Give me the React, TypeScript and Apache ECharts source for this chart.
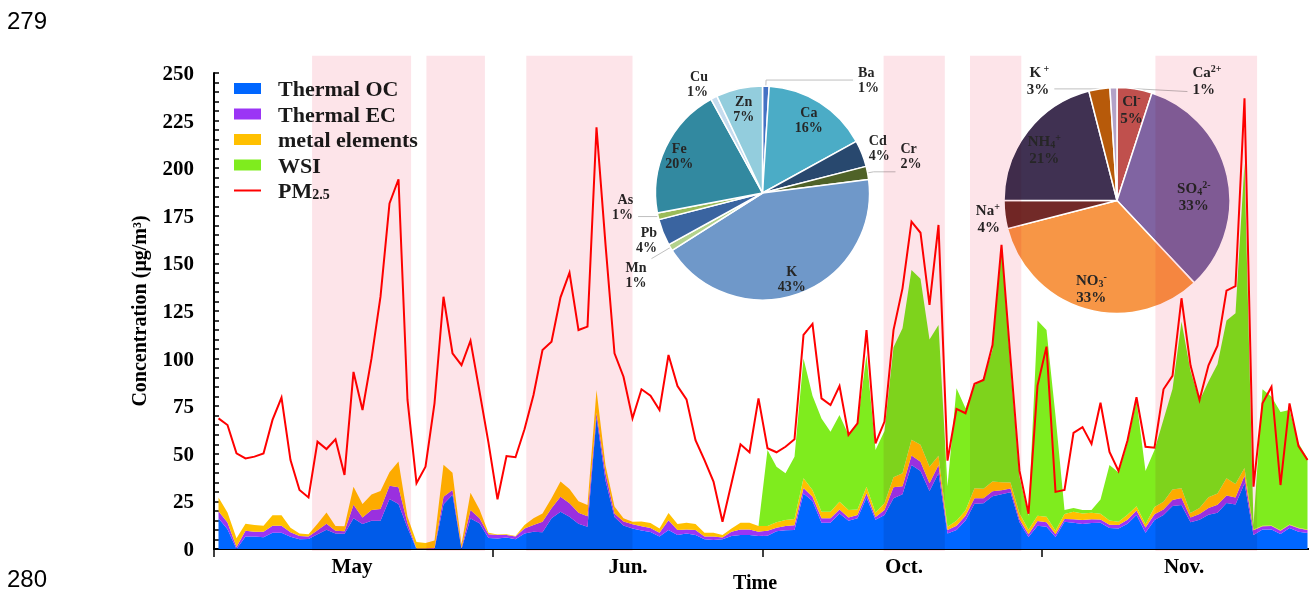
import React, { useEffect, useRef } from 'react';
import * as echarts from 'echarts';

// ---------------- data ----------------
const MONTHS = ['May', 'Jun.', 'Oct.', 'Nov.'];
const MONTH_NUM = [5, 6, 10, 11];
const MONTH_DAYS = [31, 30, 31, 30];

const DAYS: string[] = [];
MONTH_NUM.forEach((m, k) => {
  for (let d = 1; d <= MONTH_DAYS[k]; d++) DAYS.push(`${m}-${d}`);
});
const MONTH_START: number[] = [];
MONTH_DAYS.reduce((acc, d) => { MONTH_START.push(acc); return acc + d; }, 0);
const MONTH_LABEL_AT: Record<number, number> = {};
MONTH_START.forEach((s, k) => { MONTH_LABEL_AT[s + 15] = k; });

const PM25 = [
  68.6, 65.1, 50.2, 47.6, 48.5, 50.2, 67.8, 79.5, 46.7, 31,
  27.1, 56.4, 52.5, 57.6, 38.9, 93, 73, 100.1, 132.5, 181.5,
  194.2, 78.3, 34.5, 43.2, 76.5, 132.5, 102.8, 96.6, 109.4, 82.8,
  55.7, 26.1, 48.8, 48.2, 62.9, 80.9, 104.5, 108.9, 132.2, 145.1,
  115, 116.8, 221.5, 160, 102.8, 90.5, 68.6, 83.9, 80.5, 73,
  101.9, 85.6, 78.6, 57.2, 46.7, 35.4, 14.3, 34.5, 55, 50.8,
  79.1, 52.9, 50.8, 53.7, 57.6, 112.4, 118.2, 79.1, 75.6, 85.6,
  59.9, 66, 115, 55.5, 66.9, 115, 136.9, 171.9, 166.1, 128.2,
  170.2, 46.4, 73.6, 71.3, 86.8, 88.8, 107.1, 159.7, 100, 41,
  18.5, 85.8, 106.3, 30, 31, 61, 64, 55.2, 76.8, 51,
  41, 57, 79.7, 53.7, 53.2, 83.9, 90.9, 131.7, 96.5, 78.3,
  96.5, 106.8, 135.7, 138.1, 236.7, 32.7, 76.5, 85.2, 33.6, 76.5,
  54.1, 46.7,
];

const THERMAL_OC = [
  16.1, 10.4, 0, 6.6, 6.5, 6.2, 8.6, 8.6, 6.4, 5.1,
  5.2, 7.8, 10.1, 8.2, 8, 16.1, 13.1, 14.9, 14.9, 26.3,
  23.6, 11.2, 0, 0, 0, 23.5, 28.5, 0, 16, 13.5,
  5.8, 5.5, 6.1, 5.1, 8.2, 9.1, 8.8, 16.1, 19.6, 17,
  13.3, 11.7, 69, 36, 16.8, 12.3, 10.8, 9.7, 8.9, 6.5,
  10, 7.4, 8.2, 7.4, 5.1, 4.7, 5.1, 6.8, 7.4, 7.4,
  6.8, 7, 9.3, 9.8, 10, 29.2, 25.2, 13.8, 13.8, 18.7,
  14.9, 16.1, 27.1, 15.4, 17.9, 26.6, 28.8, 44.1, 41, 30.5,
  39.8, 8.2, 10, 15, 23.8, 24, 27.7, 28.7, 29.8, 14,
  6.3, 12.2, 11.7, 6.3, 14.3, 13.8, 13.1, 13.6, 13.8, 11,
  10.8, 13.2, 17.8, 8.6, 15.2, 17.8, 22.6, 23.1, 14, 15.4,
  18, 19, 24.1, 23.4, 34.5, 7.4, 10.2, 10.3, 7.9, 11,
  9.1, 8.4,
];

const THERMAL_EC = [
  3.7, 3.5, 1, 3, 2.6, 2.8, 3.6, 3.6, 2.4, 1.7,
  1.4, 2, 3.2, 1.4, 1.3, 7.1, 3.4, 5.6, 6.1, 6.9,
  8.8, 2.3, 0.3, 0.3, 0.5, 4, 2.5, 0.5, 4.5, 2.6,
  2, 1.8, 1.3, 1.4, 2.6, 3.5, 5.5, 5.3, 7.9, 7,
  5.8, 5.5, 2.5, 3.8, 1.9, 2.2, 2.2, 2.2, 2.1, 2.1,
  5.1, 2.6, 2.1, 2.6, 1.4, 1.8, 1, 2.3, 2.9, 2.9,
  2.3, 2.6, 1.9, 2.3, 2.5, 2.8, 2.2, 2.3, 2.3, 2.1,
  1.7, 1.8, 2.2, 1.4, 2.6, 5.8, 4.1, 5, 4.8, 4,
  4.3, 1.8, 2.2, 2.4, 2.8, 2.6, 2.6, 2.1, 2, 1.6,
  1.5, 2.5, 2.3, 1.5, 1.5, 1.8, 2.1, 2, 1.7, 1.7,
  1.8, 2.2, 2.4, 2.7, 3.1, 3, 3.1, 3.7, 2.5, 3,
  3.5, 4.2, 4, 3.7, 4, 2.4, 1.8, 1.8, 1.7, 1.6,
  1.8, 1.6,
];

const METAL_ELEMENTS = [
  7.2, 5.3, 4.6, 3.7, 3.5, 3.2, 5.5, 5.5, 2.4, 1.4,
  1.2, 3.4, 5.9, 2.5, 2.7, 9.5, 7.1, 8.1, 9.5, 7.1,
  13.5, 3.5, 3.4, 2.9, 4, 16.8, 9, 2, 9.1, 4.7,
  0.8, 0.3, 0.3, 0.3, 1.8, 3.5, 4.4, 5.2, 7.9, 7.5,
  6, 5.9, 12, 4.2, 3.6, 1.7, 1.3, 2.6, 2.6, 2.2,
  3.8, 3.1, 3.5, 3.1, 2.1, 2.1, 1.3, 1.7, 3.5, 3.5,
  3, 2.5, 2.8, 3.1, 3.3, 5.1, 3.6, 3.5, 3.5, 4,
  3.9, 2.9, 3.4, 2.4, 3.5, 5.3, 6.9, 8.3, 9, 8.7,
  4.9, 1.7, 2.6, 2.8, 5.3, 5, 5.2, 4.2, 3.1, 3.1,
  2.3, 2.7, 3, 1.8, 2.6, 4, 3.5, 3.4, 3, 2.3,
  1.7, 2.6, 2.2, 1.7, 3.7, 4, 5.5, 5.1, 2.4, 3.1,
  5.7, 5.9, 9, 7.1, 4, 0.4, 0.2, 0.3, 0.3, 0.3,
  0.3, 0.3,
];

const WSI = [
  0, 0, 0, 0, 0, 0, 0, 0, 0, 0,
  0, 0, 0, 0, 0, 0, 0, 0, 0, 0,
  0, 0, 0, 0, 0, 0, 0, 0, 0, 0,
  0, 0, 0, 0, 0, 0, 0, 0, 0, 0,
  0, 0, 0, 0, 0, 0, 0, 0, 0, 0,
  0, 0, 0, 0, 0, 0, 0, 0, 0, 0,
  0, 39.9, 29.2, 24.6, 32.7, 62.9, 49.5, 49, 42, 45.6,
  39.4, 44.9, 69.2, 32.8, 38, 68.3, 76.2, 89.1, 87.2, 66.8,
  68.6, 21.3, 69.6, 53.7, 54.1, 57.9, 69, 123.8, 60.1, 19.3,
  7.4, 102.6, 98, 60.4, 2.1, 1.9, 1.8, 1.5, 7.5, 29.1,
  25.9, 38, 55.4, 28, 30, 43.2, 52.8, 87.6, 74.6, 56.3,
  60.8, 67.9, 82.9, 89.6, 160.1, 2.4, 71.7, 67.6, 62.1, 60.1,
  44.3, 37.3,
];

// pollution episodes, in day units along the time axis [start, end]
const EPISODES: [number, number][] = [
  [10.9, 21.9], [23.6, 30.1], [34.7, 46.5], [74.4, 81.2], [84, 89.7], [104.6, 115.9],
];
const EPISODE_TOP = 259;

const METAL_NAMES = ['Ba', 'Ca', 'Cd', 'Cr', 'K', 'Mn', 'Pb', 'As', 'Fe', 'Cu', 'Zn'];
const METAL_SHARE = [1, 16, 4, 2, 43, 1, 4, 1, 20, 1, 7];
const ION_NAMES = ['Cl-', 'SO4 2-', 'NO3-', 'Na+', 'NH4+', 'K+', 'Ca2+'];
const ION_SHARE = [5, 33, 33, 4, 21, 3, 1];

// ---------------- styles ----------------
const SERIF = '"Liberation Serif", "Times New Roman", serif';
const TXT = '#1a1a1a';
const PINK = '#fde4e8';
const PINK_OVERLAY = '#fde4e9';
const C_OC = '#0066ff';
const C_EC = '#9b35f5';
const C_METAL = '#ffc000';
const C_WSI = '#7fec1e';
const C_PM = '#ff0000';

const METAL_COLORS = ['#4472c4', '#4bacc6', '#28486e', '#4f6228', '#6f98c9', '#b3d28c', '#3a64a0', '#9bbb59', '#3289a0', '#c6dcef', '#93cddd'];
const ION_COLORS = ['#c0504d', '#8064a2', '#f79646', '#722a28', '#403152', '#b75a0a', '#b3a2c7'];

const PIE1 = { center: [762.5, 193], r: 107, r0Label: 60 };
const PIE2 = { center: [1117, 200.5], r: 113, r0Label: 65 };

type Outer = { len: number; len2: number; line: boolean; pad: number[]; flip?: boolean; dy?: number };
const METAL_OUTER: Record<string, Outer> = {
  Ba: { len: 6, len2: 87, line: true, pad: [0, 0, 0, 0] },
  Cd: { len: 2, len2: 0, line: false, pad: [0, 0, 10, 0] },
  Cr: { len: 6, len2: 22, line: true, pad: [0, 0, 32, 0] },
  Mn: { len: 22, len2: 0, line: true, pad: [32, 0, 0, 0] },
  Pb: { len: 1, len2: 0, line: false, pad: [15, 0, 0, 0] },
  As: { len: 1, len2: 19, line: true, pad: [0, 0, 20, 0] },
  Cu: { len: 2, len2: 0, line: false, pad: [0, 0, 24, 0] },
};
const METAL_INNER_PAD: Record<string, number[]> = {
  K: [10, 0, 0, 0], Fe: [0, 10, 0, 0], Ca: [0, 0, 0, 0], Zn: [0, 0, 0, 0],
};
const ION_OUTER: Record<string, Outer> = {
  'Na+': { len: 0, len2: 0, line: false, pad: [8, 0, 0, 0] },
  'K+': { len: 0, len2: 45, line: true, pad: [0, 0, 17, 0] },
  'Ca2+': { len: 0, len2: 74, line: true, pad: [0, 0, 0, 0], flip: true, dy: -7.5 },
};
const ION_INNER_PAD: Record<string, number[]> = {
  'SO4 2-': [32, 26, 0, 0], 'Cl-': [0, 0, 0, 0], 'NO3-': [0, 0, 0, 0], 'NH4+': [10, 0, 0, 0],
};
const ION_RICH_NAME: Record<string, string> = {
  'Cl-': '{b|Cl}{sup|-}',
  'SO4 2-': '{b|SO}{sub|4}{sup|2-}',
  'NO3-': '{b|NO}{sub|3}{sup|-}',
  'Na+': '{b|Na}{sup|+}',
  'NH4+': '{b|NH}{sub|4}{sup|+}',
  'K+': '{b|K}{sup| +}',
  'Ca2+': '{b|Ca}{sup|2+}',
};
const ION_RICH = {
  b: { fontFamily: SERIF, fontWeight: 'bold', fontSize: 15, color: '#262626', lineHeight: 17 },
  sup: { fontFamily: SERIF, fontWeight: 'bold', fontSize: 10, color: '#262626', lineHeight: 10, verticalAlign: 'top' },
  sub: { fontFamily: SERIF, fontWeight: 'bold', fontSize: 10, color: '#262626', lineHeight: 10, verticalAlign: 'bottom' },
};
const METAL_RICH = {
  n: { fontFamily: SERIF, fontWeight: 'bold', fontSize: 14, color: '#262626', lineHeight: 15 },
};
const PIE_LABEL_BASE = { fontFamily: SERIF, fontWeight: 'bold', color: '#262626' };

function areaSeries(name: string, data: number[], color: string) {
  return {
    name, type: 'line', stack: 'composition', data, color,
    symbol: 'none', showSymbol: false, silent: true,
    lineStyle: { width: 0, color },
    itemStyle: { color },
    areaStyle: { color, opacity: 1 },
    emphasis: { disabled: true },
    z: 2,
  };
}

export default function App() {
  const ref = useRef<HTMLDivElement>(null);
  useEffect(() => {
    if (!ref.current) return;
    const chart = echarts.init(ref.current, null, { renderer: 'svg' });

    const metalData = METAL_NAMES.map((name, i) => {
      const o = METAL_OUTER[name];
      return {
        name, value: METAL_SHARE[i],
        itemStyle: { color: METAL_COLORS[i] },
        label: o ? { show: true, padding: o.pad } : { show: false },
        labelLine: o ? { show: o.line, length: o.len, length2: o.len2 } : { show: false },
      };
    });
    const metalRing = METAL_NAMES.map((name, i) => ({
      name, value: METAL_SHARE[i],
      label: METAL_OUTER[name] ? { show: false } : { show: true, padding: METAL_INNER_PAD[name] || 0 },
    }));
    const ionData = ION_NAMES.map((name, i) => {
      const o = ION_OUTER[name];
      return {
        name, value: ION_SHARE[i],
        itemStyle: { color: ION_COLORS[i] },
        label: o ? { show: true, padding: o.pad } : { show: false },
        labelLine: o ? { show: o.line, length: o.len, length2: o.flip ? 0 : o.len2 } : { show: false },
      };
    });
    const ionRing = ION_NAMES.map((name, i) => ({
      name, value: ION_SHARE[i],
      label: ION_OUTER[name] ? { show: false } : { show: true, padding: ION_INNER_PAD[name] || 0 },
    }));
    const ionFormatter = (p: any) => `${ION_RICH_NAME[p.name]}\n{b|${p.percent}%}`;
    const metalFormatter = (p: any) => `{n|${p.name}}\n{n|${p.percent}%}`;

    const option: any = {
      animation: false,
      backgroundColor: '#ffffff',
      grid: { left: 214, right: -3, top: 73, bottom: 43, containLabel: false, outerBoundsMode: 'none' },
      legend: {
        orient: 'vertical', left: 233, top: 77.5, padding: 0, z: 10,
        itemWidth: 27, itemHeight: 11, itemGap: 3.5, selectedMode: false,
        textStyle: {
          fontFamily: SERIF, fontWeight: 'bold', fontSize: 22, color: TXT, lineHeight: 22,
          padding: [0, 0, 0, 12],
          rich: { sub: { fontFamily: SERIF, fontWeight: 'bold', fontSize: 14, color: TXT, lineHeight: 14, verticalAlign: 'bottom' } },
        },
        formatter: (n: string) => (n === 'PM2.5' ? 'PM{sub|2.5}' : n),
        data: [
          { name: 'Thermal OC', icon: 'rect', itemStyle: { color: C_OC, borderWidth: 0 } },
          { name: 'Thermal EC', icon: 'rect', itemStyle: { color: C_EC, borderWidth: 0 } },
          { name: 'metal elements', icon: 'rect', itemStyle: { color: C_METAL, borderWidth: 0 } },
          { name: 'WSI', icon: 'rect', itemStyle: { color: C_WSI, borderWidth: 0 } },
          { name: 'PM2.5', icon: 'line', itemStyle: { color: C_PM, borderColor: C_PM, borderWidth: 2 } },
        ],
      },
      xAxis: [
        {
          type: 'category', data: DAYS, boundaryGap: true,
          axisLine: { show: true, lineStyle: { color: '#000', width: 2 } },
          axisTick: {
            show: true, length: 8, lineStyle: { color: '#000', width: 1.5 },
            interval: (i: number) => MONTH_START.includes(i),
          },
          axisLabel: {
            interval: (i: number) => MONTH_LABEL_AT[i] !== undefined,
            formatter: (_v: string, i: number) => {
              const k = MONTH_LABEL_AT[i];
              return k === undefined ? '' : `{m${k}|${MONTHS[k]}}`;
            },
            fontFamily: SERIF, fontWeight: 'bold', fontSize: 21, color: '#000', margin: 6,
            rich: {
              m0: { padding: [0, 3, 0, 0] }, m1: { padding: [0, 9, 0, 0] },
              m2: { padding: [0, 0, 0, 3] }, m3: { padding: [0, 0, 0, 5] },
            },
          },
          splitLine: { show: false },
          name: 'Time', nameLocation: 'middle', nameGap: 23, nameMoveOverlap: false,
          nameTextStyle: { fontFamily: SERIF, fontWeight: 'bold', fontSize: 20, color: '#000', lineHeight: 20, padding: [0, 16, 0, 0] },
        },
        { type: 'value', min: 0, max: DAYS.length, show: false },
      ],
      yAxis: {
        type: 'value', min: 0, max: 250, interval: 5,
        axisLine: { show: true, lineStyle: { color: '#000', width: 2 } },
        axisTick: { show: true, inside: true, length: 5, lineStyle: { color: '#000', width: 1.5 } },
        axisLabel: {
          formatter: (v: number) => (v % 25 === 0 ? String(v) : ''),
          fontFamily: SERIF, fontWeight: 'bold', fontSize: 21, color: '#000', margin: 20,
        },
        splitLine: { show: false },
        name: 'Concentration (μg/m³)', nameLocation: 'middle', nameGap: 65, nameRotate: 90, nameMoveOverlap: false,
        nameTextStyle: { fontFamily: SERIF, fontWeight: 'bold', fontSize: 20, color: '#000', lineHeight: 20 },
      },
      series: [
        areaSeries('Thermal OC', THERMAL_OC, C_OC),
        areaSeries('Thermal EC', THERMAL_EC, C_EC),
        areaSeries('metal elements', METAL_ELEMENTS, C_METAL),
        areaSeries('WSI', WSI, C_WSI),
        {
          name: 'PM2.5', type: 'line', data: PM25, color: C_PM, symbol: 'none', showSymbol: false, silent: true,
          lineStyle: { color: C_PM, width: 2, join: 'miter', miterLimit: 4 },
          itemStyle: { color: C_PM }, emphasis: { disabled: true }, z: 3,
        },
        {
          type: 'pie', name: 'metals', center: PIE1.center, radius: [0, PIE1.r], startAngle: 90, clockwise: true,
          avoidLabelOverlap: false, silent: true, z: 5,
          itemStyle: { borderColor: '#ffffff', borderWidth: 1.5 },
          label: { ...PIE_LABEL_BASE, position: 'outside', fontSize: 14, lineHeight: 15, formatter: metalFormatter, rich: METAL_RICH },
          labelLine: { lineStyle: { color: '#bfbfbf', width: 1 } },
          labelLayout: { hideOverlap: false, moveOverlap: false },
          data: metalData,
        },
        {
          type: 'pie', name: 'metalsLabels', center: PIE1.center, radius: [PIE1.r0Label, PIE1.r], startAngle: 90, clockwise: true,
          avoidLabelOverlap: false, silent: true, z: 6,
          itemStyle: { color: 'rgba(0,0,0,0)', borderWidth: 0 },
          label: { ...PIE_LABEL_BASE, position: 'inside', fontSize: 14, lineHeight: 15, formatter: metalFormatter, rich: METAL_RICH },
          labelLine: { show: false },
          labelLayout: { hideOverlap: false },
          data: metalRing,
        },
        {
          type: 'pie', name: 'ions', center: PIE2.center, radius: [0, PIE2.r], startAngle: 90, clockwise: true,
          avoidLabelOverlap: false, silent: true, z: 5,
          itemStyle: { borderColor: '#ffffff', borderWidth: 1.5 },
          label: { ...PIE_LABEL_BASE, position: 'outside', fontSize: 15, lineHeight: 17, formatter: ionFormatter, rich: ION_RICH },
          labelLine: { lineStyle: { color: '#bfbfbf', width: 1 } },
          labelLayout: (p: any) => {
            const spec = ION_OUTER[ION_NAMES[p.dataIndex]];
            if (!spec || !spec.flip || !p.labelLinePoints) return { hideOverlap: false };
            const a = p.labelLinePoints[0];
            const x3 = a[0] + spec.len2;
            return {
              hideOverlap: false,
              x: x3 + 5, y: a[1] + (spec.dy || 0), align: 'left', verticalAlign: 'middle',
              labelLinePoints: [a, [x3, a[1] + 4]],
            };
          },
          data: ionData,
        },
        {
          type: 'pie', name: 'ionsLabels', center: PIE2.center, radius: [PIE2.r0Label, PIE2.r], startAngle: 90, clockwise: true,
          avoidLabelOverlap: false, silent: true, z: 6,
          itemStyle: { color: 'rgba(0,0,0,0)', borderWidth: 0 },
          label: { ...PIE_LABEL_BASE, position: 'inside', fontSize: 15, lineHeight: 17, formatter: ionFormatter, rich: ION_RICH },
          labelLine: { show: false },
          labelLayout: { hideOverlap: false },
          data: ionRing,
        },
      ],
    };
    chart.setOption(option);

    const px = (v: number) => chart.convertToPixel({ xAxisIndex: 1 }, v) as unknown as number;
    const py = (v: number) => chart.convertToPixel({ yAxisIndex: 0 }, v) as unknown as number;
    const yTop = py(EPISODE_TOP);
    const yBot = py(0);
    const bandShape = ([a, b]: [number, number]) => ({ x: px(a), y: yTop, width: px(b) - px(a), height: yBot - yTop + 2 });
    // pink episode bands behind the data
    const bandEls = EPISODES.map((ep) => ({
      type: 'rect', silent: true, z: 0, shape: bandShape(ep), style: { fill: PINK },
    }));
    // the same bands above the data, made visible with multiply blending below
    const overlayEls = EPISODES.map((ep) => ({
      type: 'rect', silent: true, z: 100, shape: bandShape(ep), style: { fill: PINK_OVERLAY, opacity: 0.002 },
    }));
    chart.setOption({
      graphic: {
        elements: [
          ...bandEls,
          ...overlayEls,
          { type: 'text', left: 7, top: 8, silent: true, style: { text: '279', fontSize: 24, fontFamily: '"Liberation Sans", sans-serif', fill: '#000' } },
          { type: 'text', left: 7, top: 566, silent: true, style: { text: '280', fontSize: 24, fontFamily: '"Liberation Sans", sans-serif', fill: '#000' } },
        ],
      },
    });

    const root = ref.current;
    const applyBlend = () => {
      if (!root) return;
      const over: Element[] = [];
      const under: Element[] = [];
      root.querySelectorAll('path, rect').forEach((el) => {
        const f = (el.getAttribute('fill') || '').toLowerCase().replace(/\s/g, '');
        if (f === PINK_OVERLAY || f === 'rgb(253,228,233)') over.push(el);
        if (f === PINK || f === 'rgb(253,228,232)') under.push(el);
      });
      if (over.length !== EPISODES.length) return;
      over.forEach((el) => {
        el.setAttribute('fill-opacity', '1');
        el.setAttribute('opacity', '1');
        (el as SVGElement).style.mixBlendMode = 'multiply';
      });
      under.forEach((el) => {
        el.setAttribute('fill-opacity', '0');
      });
    };
    applyBlend();
    const timers = [0, 50, 200, 600].map((t) => setTimeout(applyBlend, t));
    chart.on('finished', applyBlend);

    return () => {
      timers.forEach(clearTimeout);
      chart.dispose();
    };
  }, []);
  return <div ref={ref} style={{ position: 'fixed', left: 0, top: 0, width: 1309, height: 592 }} />;
}
